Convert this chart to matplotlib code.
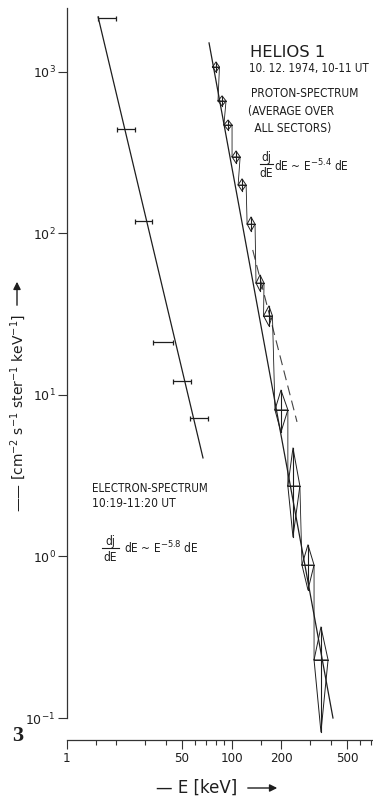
import matplotlib
matplotlib.use("Agg")
import matplotlib.pyplot as plt
from matplotlib.ticker import FixedLocator, FixedFormatter, NullLocator, NullFormatter

# ---------------- data ----------------
# Electron spectrum: energy bins (keV) and flux
e_E = [17.6, 22.9, 29.2, 38.3, 50.0, 63.3]
e_Elo = [15.5, 20.2, 25.9, 33.3, 44.1, 55.8]
e_Ehi = [19.9, 25.9, 32.9, 44.1, 56.6, 71.8]
e_flux = [2140, 440, 119.7, 21.3, 12.2, 7.19]
e_fit_E = [15.5, 67.0]
e_fit_flux = [2180, 4.07]

# Proton spectrum
p_E = [80.3, 87.4, 95.0, 106.2, 115.5, 130.9, 148.4, 168.1, 198.9, 235.2, 289.9, 347.5]
p_Elo = [76.5, 82.6, 89.7, 100.5, 109.4, 124.0, 140.4, 156.0, 182.9, 219.0, 266.6, 315.6]
p_Ehi = [84.3, 92.4, 100.5, 112.5, 122.3, 138.5, 157.0, 176.6, 219.0, 259.0, 315.6, 383.7]
p_flux = [1069, 659, 468, 297, 199, 114, 49.2, 30.8, 8.07, 2.73, 0.885, 0.229]
p_hi = [1148, 708, 502, 323, 217, 126, 55.2, 35.5, 10.7, 4.69, 1.18, 0.366]
p_lo = [995, 614, 436, 272, 183, 103, 44.0, 26.7, 5.88, 1.32, 0.621, 0.082]
p_fit_E = [72.9, 411]
p_fit_flux = [1506, 0.1]
p_dash_E = [134.1, 248.8]
p_dash_flux = [78.8, 6.80]

x_major = [10, 50, 100, 200, 500]
x_major_labels = ["1", "50", "100", "200", "500"]
x_minor = [15, 20, 30, 40, 60, 70, 80, 90, 150, 300, 400, 600, 700]
y_major = [0.1, 1, 10, 100, 1000]
y_major_labels = ["$10^{-1}$", "$10^{0}$", "$10^{1}$", "$10^{2}$", "$10^{3}$"]

# ---------------- style ----------------
INK = "#1e1e1e"
W, H = 373, 801
NARROW = dict(family="DejaVu Sans", stretch="condensed")

fig = plt.figure(figsize=(W / 100, H / 100), dpi=100)
fig.patch.set_facecolor("white")
ax = fig.add_axes([66.7 / W, 83 / H, (W - 66.7) / W, 710 / H])
ax.set_xscale("log")
ax.set_yscale("log")
ax.set_xlim(10, 718.5)
ax.set_ylim(0.1, 2477)

for s in ("top", "right"):
    ax.spines[s].set_visible(False)
ax.spines["bottom"].set_position(("outward", 15.8))
for s in ("left", "bottom"):
    ax.spines[s].set_color("#333333")
    ax.spines[s].set_linewidth(0.9)

ax.xaxis.set_major_locator(FixedLocator(x_major))
ax.xaxis.set_major_formatter(FixedFormatter(x_major_labels))
ax.xaxis.set_minor_locator(FixedLocator(x_minor))
ax.xaxis.set_minor_formatter(NullFormatter())
ax.yaxis.set_major_locator(FixedLocator(y_major))
ax.yaxis.set_major_formatter(FixedFormatter(y_major_labels))
ax.yaxis.set_minor_locator(NullLocator())
ax.yaxis.set_minor_formatter(NullFormatter())
ax.tick_params(axis="x", which="major", direction="out", length=6.5, width=0.8,
               color="#333333", pad=2.5, labelsize=9.5)
ax.tick_params(axis="x", which="minor", direction="out", length=3.6, width=0.8,
               color="#333333")
ax.tick_params(axis="y", which="major", direction="out", length=6.5, width=0.8,
               color="#333333", pad=1.5, labelsize=9)
for lab in ax.get_xticklabels():
    lab.set_fontfamily("DejaVu Sans")
    lab.set_fontstretch("condensed")
    lab.set_color(INK)
for lab in ax.get_yticklabels():
    lab.set_color(INK)

# ---------------- electron spectrum ----------------
ax.plot(e_fit_E, e_fit_flux, color=INK, lw=0.9)
xerr = [[c - l for c, l in zip(e_E, e_Elo)], [h - c for c, h in zip(e_E, e_Ehi)]]
ax.errorbar(e_E, e_flux, xerr=xerr, fmt="none", ecolor=INK, elinewidth=0.9,
            capsize=1.8, capthick=0.9)

# ---------------- proton spectrum ----------------
ax.plot(p_fit_E, p_fit_flux, color=INK, lw=0.9, clip_on=False)
ax.plot(p_dash_E, p_dash_flux, color="#444444", lw=0.8, ls=(0, (9, 5)))
for xc, xl, xh, yc, yl, yh in zip(p_E, p_Elo, p_Ehi, p_flux, p_lo, p_hi):
    ax.plot([xl, xc, xh, xc, xl], [yc, yh, yc, yl, yc], color=INK, lw=0.7,
            clip_on=False)
    ax.plot([xl, xh], [yc, yc], color=INK, lw=0.7, clip_on=False)
    ax.plot([xc, xc], [yl, yh], color=INK, lw=0.8, clip_on=False)
step_x, step_y = [], []
for xl, xh, yc in zip(p_Elo, p_Ehi, p_flux):
    step_x += [xl, xh]
    step_y += [yc, yc]
ax.plot(step_x, step_y, color=INK, lw=0.6, clip_on=False)


# ---------------- texts ----------------
def ftext(x, y, s, **kw):
    return fig.text(x / W, 1 - y / H, s, color=INK, **kw)


def fraction(xl, xr, ybar, size):
    xm = (xl + xr) / 2
    ftext(xm, ybar - 3, "dj", fontsize=size, ha="center", va="baseline", **NARROW)
    ftext(xm, ybar + 13, "dE", fontsize=size, ha="center", va="baseline", **NARROW)
    fig.add_artist(matplotlib.lines.Line2D([xl / W, xr / W], [1 - ybar / H, 1 - ybar / H],
                                           color=INK, lw=0.8))


ftext(250, 57, "HELIOS 1", fontsize=11.8, family="DejaVu Sans", va="baseline")
ftext(249, 72, "10. 12. 1974, 10-11 UT", fontsize=8.3, va="baseline", **NARROW)
ftext(251, 97, "PROTON-SPECTRUM", fontsize=8.6, va="baseline", **NARROW)
ftext(248, 115, "(AVERAGE OVER", fontsize=8.6, va="baseline", **NARROW)
ftext(251, 132, " ALL SECTORS)", fontsize=8.6, va="baseline", **NARROW)
fraction(260, 273, 164, 8.6)
ftext(274, 171, "dE ~ E$^{-5.4}$ dE", fontsize=8.6, va="baseline", **NARROW)

ftext(92, 492, "ELECTRON-SPECTRUM", fontsize=8.3, va="baseline", **NARROW)
ftext(92, 507, "10:19-11:20 UT", fontsize=8.6, va="baseline", **NARROW)
fraction(102, 119, 548, 8.6)
ftext(124, 553, "dE ~ E$^{-5.8}$ dE", fontsize=8.6, va="baseline", **NARROW)

ftext(12, 741, "3", fontsize=16, family=["Liberation Serif", "DejaVu Serif"],
      weight="bold", va="baseline")

# axis labels with arrows
ftext(156, 788, "— E [keV]", fontsize=12, family="DejaVu Sans", va="center", ha="left")
fig.add_artist(matplotlib.patches.FancyArrowPatch(
    (245, H - 788), (280, H - 788), transform=None, arrowstyle="-|>",
    mutation_scale=11, color=INK, lw=1.0))
ftext(18, 413, "—— [cm$^{-2}$ s$^{-1}$ ster$^{-1}$ keV$^{-1}$]", fontsize=10,
      family="DejaVu Sans", rotation=90, va="center", ha="center")
fig.add_artist(matplotlib.patches.FancyArrowPatch(
    (17, H - 308), (17, H - 279), transform=None, arrowstyle="-|>",
    mutation_scale=11, color=INK, lw=1.0))

fig.savefig("out.png", dpi=100, facecolor="white")
